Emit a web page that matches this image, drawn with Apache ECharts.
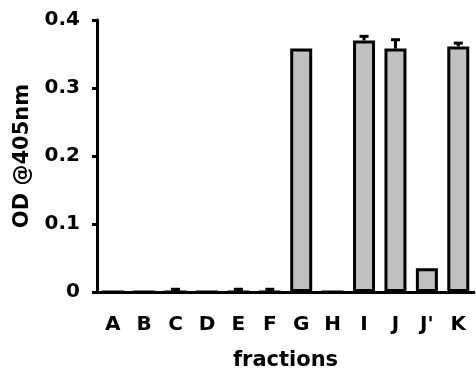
<!DOCTYPE html>
<html><head><meta charset="utf-8">
<script src="https://cdn.jsdelivr.net/npm/echarts@6/dist/echarts.min.js"></script>
<style>html,body{margin:0;padding:0;background:#fff}#c{width:476px;height:377px}</style>
</head><body><div id="c"></div>
<script>
const categories = ['A','B','C','D','E','F','G','H','I','J',"J'",'K'];
const values = [0, 0, 0, 0, 0, 0, 0.358, 0, 0.370, 0.358, 0.035, 0.361];
const errors = [0, 0, 0.004, 0, 0.004, 0.004, 0, 0, 0.006, 0.013, 0, 0.005];
const yTicks = [0, 0.1, 0.2, 0.3, 0.4];

const font = 'DejaVu Sans, Arial, sans-serif';
const chart = echarts.init(document.getElementById('c'));
chart.setOption({
  animation: false,
  grid: {left: 97, right: 2, top: 20, bottom: 85},
  xAxis: {
    type: 'category', data: categories,
    name: 'fractions', nameLocation: 'middle', nameGap: 58,
    nameTextStyle: {fontFamily: font, fontWeight: 'bold', fontSize: 21, color: '#000'},
    axisLine: {lineStyle: {color: '#000', width: 3}},
    axisTick: {alignWithLabel: true, length: 6, lineStyle: {color: '#000', width: 3}},
    axisLabel: {fontFamily: font, fontWeight: 'bold', fontSize: 20, color: '#000', margin: 23, interval: 0}
  },
  yAxis: {
    type: 'value', min: 0, max: 0.4, interval: 0.1,
    name: 'OD @405nm', nameLocation: 'middle', nameGap: 64, nameRotate: 90,
    nameTextStyle: {fontFamily: font, fontWeight: 'bold', fontSize: 21, color: '#000'},
    axisLine: {show: true, lineStyle: {color: '#000', width: 3}},
    axisTick: {show: true, length: 5, lineStyle: {color: '#000', width: 3}},
    splitLine: {show: false},
    axisLabel: {fontFamily: font, fontWeight: 'bold', fontSize: 20, color: '#000', margin: 17,
      formatter: v => v === 0 ? '0' : v.toFixed(1)}
  },
  series: [
    {
      type: 'bar', data: values, barWidth: '70%',
      itemStyle: {color: '#c0c0c0', borderColor: '#000', borderWidth: 3},
      z: 2
    },
    {
      type: 'custom', z: 3,
      data: values.map((v, i) => [i, v, errors[i]]),
      renderItem: function (params, api) {
        const e = api.value(2);
        if (!e) return null;
        const i = api.value(0), v = api.value(1);
        const top = api.coord([i, v + e]);
        const base = api.coord([i, v]);
        return {type: 'group', children: [
          {type: 'line', shape: {x1: top[0], y1: top[1], x2: base[0], y2: base[1]}, style: {stroke: '#000', lineWidth: 3}},
          {type: 'line', shape: {x1: top[0] - 4.5, y1: top[1], x2: top[0] + 4.5, y2: top[1]}, style: {stroke: '#000', lineWidth: 3}}
        ]};
      }
    }
  ]
});
</script></body></html>
